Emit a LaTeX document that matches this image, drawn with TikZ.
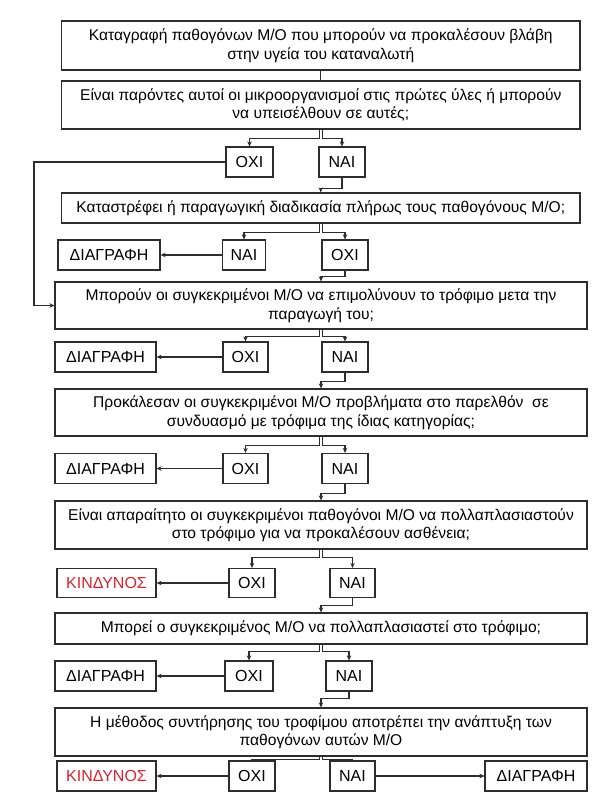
\documentclass[tikz,border=0pt]{standalone}
\usepackage{fontspec}
\setmainfont{Liberation Sans}
\usetikzlibrary{arrows.meta}

\definecolor{linegray}{RGB}{45,45,45}
\definecolor{dangerred}{RGB}{215,35,45}

\tikzset{
  qbox/.style={draw=linegray, line width=1.2pt, align=center, inner sep=0pt,
    minimum width=532pt, font=\fontsize{15.6}{18.5}\selectfont},
  abox/.style={draw=linegray, line width=1.2pt, inner sep=0pt,
    minimum height=30pt, font=\fontsize{16}{18}\selectfont},
  arr/.style={-{Stealth[length=5pt,width=4.5pt]}, line width=1.1pt, draw=linegray},
  wire/.style={line width=1.1pt, draw=linegray}
}

\begin{document}
\begin{tikzpicture}[x=1pt, y=-1pt]

\useasboundingbox (0,0) rectangle (600,800);

\coordinate (back) at (34,162);

% questions
\node[qbox, minimum width=518.5pt, minimum height=49pt] (q1) at (320.75,45.5)
  {Καταγραφή παθογόνων Μ/Ο που μπορούν να προκαλέσουν βλάβη\\στην υγεία του καταναλωτή};
\node[qbox, minimum width=518.5pt, minimum height=48pt] (q2) at (320.75,105)
  {Είναι παρόντες αυτοί οι μικροοργανισμοί στις πρώτες ύλες ή μπορούν\\να υπεισέλθουν σε αυτές;};
\node[qbox, minimum width=518.5pt, minimum height=30pt] (q3) at (320.75,208)
  {Καταστρέφει ή παραγωγική διαδικασία πλήρως τους παθογόνους Μ/Ο;};
\node[qbox, minimum height=47pt] (q4) at (321,305.5)
  {Μπορούν οι συγκεκριμένοι Μ/Ο να επιμολύνουν το τρόφιμο μετα την\\παραγωγή του;};
\node[qbox, minimum height=47pt] (q5) at (321,412.5)
  {Προκάλεσαν οι συγκεκριμένοι Μ/Ο προβλήματα στο παρελθόν\ \ σε\\συνδυασμό με τρόφιμα της ίδιας κατηγορίας;};
\node[qbox, minimum height=48pt] (q6) at (321,525)
  {Είναι απαραίτητο οι συγκεκριμένοι παθογόνοι Μ/Ο να πολλαπλασιαστούν\\στο τρόφιμο για να προκαλέσουν ασθένεια;};
\node[qbox, minimum height=31pt] (q7) at (321,628.5)
  {Μπορεί ο συγκεκριμένος Μ/Ο να πολλαπλασιαστεί στο τρόφιμο;};
\node[qbox, minimum height=48pt] (q8) at (321,732)
  {Η μέθοδος συντήρησης του τροφίμου αποτρέπει την ανάπτυξη των\\παθογόνων αυτών Μ/Ο};

% answers
\node[abox, minimum width=47pt] (o1) at (249.5,162) {ΟΧΙ};
\node[abox, minimum width=46pt] (n1) at (342,162) {ΝΑΙ};

\node[abox, minimum width=102pt] (d2) at (109,255) {ΔΙΑΓΡΑΦΗ};
\node[abox, minimum width=43pt] (n2) at (244,255) {ΝΑΙ};
\node[abox, minimum width=46pt] (o2) at (345,255) {ΟΧΙ};

\node[abox, minimum width=101pt] (d3) at (105.5,357) {ΔΙΑΓΡΑΦΗ};
\node[abox, minimum width=45pt] (o3) at (245.5,357) {ΟΧΙ};
\node[abox, minimum width=46pt] (n3) at (345,357) {ΝΑΙ};

\node[abox, minimum width=101pt] (d4) at (105.5,468.5) {ΔΙΑΓΡΑΦΗ};
\node[abox, minimum width=45pt] (o4) at (245.5,468.5) {ΟΧΙ};
\node[abox, minimum width=46pt] (n4) at (345,468.5) {ΝΑΙ};

\node[abox, minimum width=99pt, minimum height=29pt, text=dangerred] (k5) at (106.5,583) {ΚΙΝΔΥΝΟΣ};
\node[abox, minimum width=46pt, minimum height=29pt] (o5) at (252,583) {ΟΧΙ};
\node[abox, minimum width=45pt, minimum height=29pt] (n5) at (352.5,583) {ΝΑΙ};

\node[abox, minimum width=101pt] (d6) at (105.5,676) {ΔΙΑΓΡΑΦΗ};
\node[abox, minimum width=48pt] (o6) at (249,676) {ΟΧΙ};
\node[abox, minimum width=46pt] (n6) at (349,676) {ΝΑΙ};

\node[abox, minimum width=99pt, text=dangerred] (k7) at (106.5,776) {ΚΙΝΔΥΝΟΣ};
\node[abox, minimum width=46pt] (o7) at (252,776) {ΟΧΙ};
\node[abox, minimum width=45pt] (n7) at (352.5,776) {ΝΑΙ};
\node[abox, minimum width=102pt] (d7) at (536,776) {ΔΙΑΓΡΑΦΗ};

% main line
\draw[wire] (q1) -- (q2);

\draw[arr] ([xshift=-1.5pt]q2.south) -- ++(0,9) -| (o1.north);
\draw[arr] ([xshift=1.5pt]q2.south) -- ++(0,9) -| (n1.north);
\draw[arr] (o1.west) -- (back) |- (q4.west);
\draw[arr] (n1.south) -- ++(0,11) -| (q3.north);

\draw[arr] ([xshift=-1.5pt]q3.south) -- ++(0,9) -| (n2.north);
\draw[arr] ([xshift=1.5pt]q3.south) -- ++(0,9) -| (o2.north);
\draw[arr] (n2.west) -- (d2.east);
\draw[arr] (o2.south) -- ++(0,6) -| (q4.north);

\draw[arr] ([xshift=-1.5pt]q4.south) -- ++(0,7) -| (o3.north);
\draw[arr] ([xshift=1.5pt]q4.south) -- ++(0,7) -| (n3.north);
\draw[arr] (o3.west) -- (d3.east);
\draw[arr] (n3.south) -- ++(0,9) -| (q5.north);

\draw[arr] ([xshift=-1.5pt]q5.south) -- ++(0,9) -| (o4.north);
\draw[arr] ([xshift=1.5pt]q5.south) -- ++(0,9) -| (n4.north);
\draw[arr] (o4.west) -- (d4.east);
\draw[arr] (n4.south) -- ++(0,9) -| (q6.north);

\draw[arr] ([xshift=-1.5pt]q6.south) -- ++(0,8) -| (o5.north);
\draw[arr] ([xshift=1.5pt]q6.south) -- ++(0,8) -| (n5.north);
\draw[arr] (o5.west) -- (k5.east);
\draw[arr] (n5.south) -- ++(0,7) -| (q7.north);

\draw[arr] ([xshift=-1.5pt]q7.south) -- ++(0,7) -| (o6.north);
\draw[arr] ([xshift=1.5pt]q7.south) -- ++(0,7) -| (n6.north);
\draw[arr] (o6.west) -- (d6.east);
\draw[arr] (n6.south) -- ++(0,7) -| (q8.north);

\draw[wire] ([xshift=-1.5pt]q8.south) -- ++(0,2.5) -| (o7.north);
\draw[wire] ([xshift=1.5pt]q8.south) -- ++(0,2.5) -| (n7.north);
\draw[arr] (o7.west) -- (k7.east);
\draw[arr] (n7.east) -- (d7.west);

\end{tikzpicture}
\end{document}
